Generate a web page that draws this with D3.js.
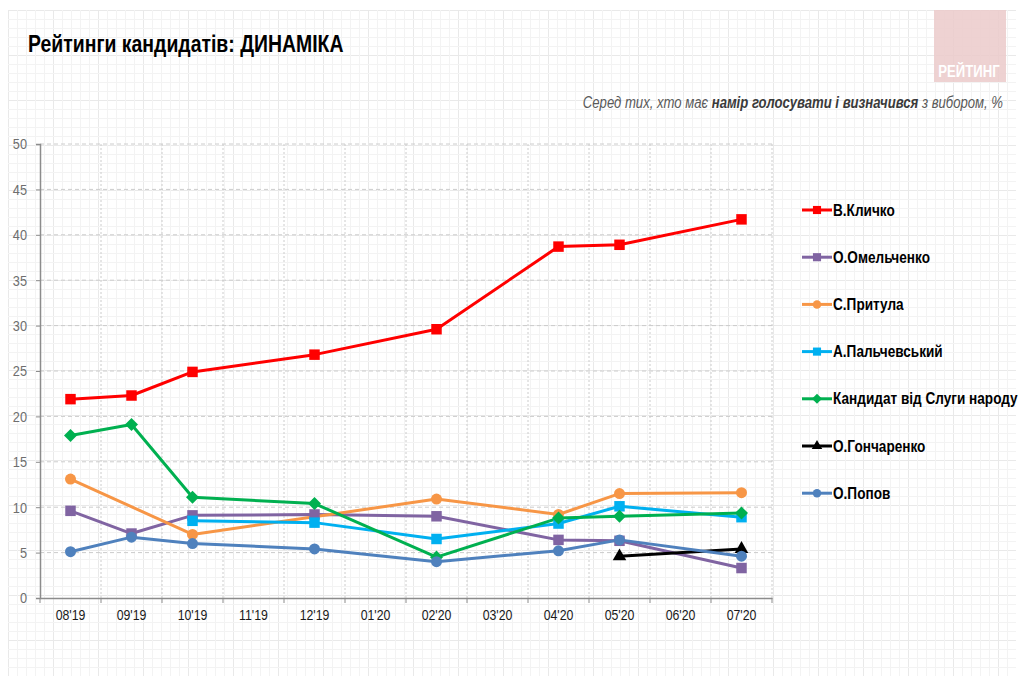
<!DOCTYPE html>
<html><head><meta charset="utf-8">
<script src="https://cdn.jsdelivr.net/npm/d3@7"></script>
<style>
body{margin:0;background:#fff;}
svg{display:block;}
</style></head>
<body>
<script>
const categories = ["08'19","09'19","10'19","11'19","12'19","01'20","02'20","03'20","04'20","05'20","06'20","07'20"];
const yTicks = [0,5,10,15,20,25,30,35,40,45,50];
const klitschko   = [21.9,22.3,24.9,null,26.8,null,29.6,null,38.7,38.9,null,41.7];
const omelchenko  = [9.6,7.1,9.1,null,9.2,null,9.0,null,6.4,6.3,null,3.3];
const prytula     = [13.1,null,7.0,null,null,null,10.9,null,9.2,11.5,null,11.6];
const palchevskyi = [null,null,8.5,null,8.3,null,6.5,null,8.2,10.1,null,8.9];
const servant     = [17.9,19.1,11.1,null,10.4,null,4.5,null,8.8,9.0,null,9.35];
const honcharenko = [null,null,null,null,null,null,null,null,null,4.6,null,5.4];
const popov       = [5.1,6.7,6.0,null,5.4,null,4.0,null,5.2,6.4,null,4.6];
const seriesNames = ["В.Кличко","О.Омельченко","С.Притула","А.Пальчевський","Кандидат від Слуги народу","О.Гончаренко","О.Попов"];

const rhombus={draw(ctx,size){const r=Math.sqrt(size/2);ctx.moveTo(0,-r);ctx.lineTo(r,0);ctx.lineTo(0,r);ctx.lineTo(-r,0);ctx.closePath();}};

const seriesDefs = [
  {name:seriesNames[0], values:klitschko,   color:"#FF0000", sym:d3.symbolSquare,  size:110},
  {name:seriesNames[1], values:omelchenko,  color:"#8064A2", sym:d3.symbolSquare,  size:110},
  {name:seriesNames[2], values:prytula,     color:"#F79646", sym:d3.symbolCircle,  size:95},
  {name:seriesNames[3], values:palchevskyi, color:"#00B0F0", sym:d3.symbolSquare,  size:110},
  {name:seriesNames[4], values:servant,     color:"#00B050", sym:rhombus,          size:85},
  {name:seriesNames[5], values:honcharenko, color:"#000000", sym:d3.symbolTriangle,size:80},
  {name:seriesNames[6], values:popov,       color:"#4F81BD", sym:d3.symbolCircle,  size:95}
];

const W=1024,H=676;
const svg=d3.select("body").append("svg").attr("width",W).attr("height",H);
const font="'Liberation Sans',Arial,sans-serif";
const K=0.82; // narrow-font emulation

// grid-paper background
const defs=svg.append("defs");
const pat=defs.append("pattern").attr("id","paper").attr("patternUnits","userSpaceOnUse")
  .attr("width",45).attr("height",45).attr("x",8).attr("y",10);
for(let i=0;i<5;i++){
  pat.append("line").attr("x1",i*9+0.5).attr("x2",i*9+0.5).attr("y1",0).attr("y2",45)
    .attr("stroke",i===0?"#e9e9e9":"#f3f3f3").attr("stroke-width",1);
  pat.append("line").attr("y1",i*9+0.5).attr("y2",i*9+0.5).attr("x1",0).attr("x2",45)
    .attr("stroke",i===0?"#e9e9e9":"#f3f3f3").attr("stroke-width",1);
}
svg.append("rect").attr("x",8).attr("y",10).attr("width",W-16).attr("height",H-10).attr("fill","url(#paper)");

// logo
svg.append("rect").attr("x",934).attr("y",10).attr("width",72).attr("height",72).attr("fill","#ebcaca").attr("opacity",0.85);
svg.append("text").attr("transform","translate(969,77) scale("+K+",1)").attr("text-anchor","middle")
  .attr("font-family",font).attr("font-weight","bold").attr("font-size",16).attr("fill","#fff").text("РЕЙТИНГ");

// title
svg.append("text").attr("transform","translate(28,52) scale("+K+",1)").attr("font-family",font).attr("font-weight","bold")
  .attr("font-size",23.7).attr("fill","#000").text("Рейтинги кандидатів: ДИНАМІКА");

// subtitle
const sub=svg.append("text").attr("transform","translate(1003,108) scale("+K+",1)").attr("text-anchor","end")
  .attr("font-family",font).attr("font-style","italic").attr("font-size",16).attr("fill","#595959");
sub.append("tspan").text("Серед тих, хто має ");
sub.append("tspan").attr("font-weight","bold").attr("fill","#3a3a3a").text("намір голосувати і визначився");
sub.append("tspan").text(" з вибором, %");

// scales
const x=d3.scaleBand().domain(categories).range([40,772]).padding(0);
const y=d3.scaleLinear().domain([0,50]).range([598,144]);
const cx=c=>x(c)+x.bandwidth()/2;

const g=svg.append("g");
// horizontal grid
g.append("g").selectAll("line").data(yTicks.filter(t=>t>0)).join("line")
  .attr("x1",40).attr("x2",772).attr("y1",d=>y(d)).attr("y2",d=>y(d))
  .attr("stroke","#cccccc").attr("stroke-dasharray","4,3");
// vertical grid
g.append("g").selectAll("line").data(categories).join("line")
  .attr("x1",d=>x(d)+x.bandwidth()).attr("x2",d=>x(d)+x.bandwidth()).attr("y1",144).attr("y2",598)
  .attr("stroke","#cccccc").attr("stroke-dasharray","2,2");

// axes
const yAxis=g.append("g").attr("transform","translate(40,0)")
  .call(d3.axisLeft(y).tickValues(yTicks).tickSize(4).tickPadding(0));
yAxis.select(".domain").attr("stroke","#8c8c8c").attr("stroke-width",1.5);
yAxis.selectAll(".tick line").attr("stroke","#8c8c8c");
yAxis.selectAll("text").attr("x",null).attr("transform","translate(-13,0) scale(0.85,1)")
  .attr("font-family",font).attr("font-size",15).attr("fill","#6e6e6e");

const xAxis=g.append("g").attr("transform","translate(0,598)")
  .call(d3.axisBottom(x).tickSize(0).tickPadding(0));
xAxis.select(".domain").attr("stroke","#8c8c8c").attr("stroke-width",1.5);
xAxis.selectAll("text").attr("y",null).attr("dy",null).attr("transform","translate(0,22) scale(0.85,1)")
  .attr("font-family",font).attr("font-size",14.5).attr("fill","#1a1a1a");
xAxis.append("g").selectAll("line").data([categories[0]].concat(categories)).join("line")
  .attr("x1",(d,i)=>i===0?x(d):x(d)+x.bandwidth()).attr("x2",(d,i)=>i===0?x(d):x(d)+x.bandwidth())
  .attr("y1",0).attr("y2",5).attr("stroke","#8c8c8c");

// series
const line=d3.line().x(d=>cx(d.c)).y(d=>y(d.v));
seriesDefs.forEach(s=>{
  const pts=categories.map((c,i)=>({c,v:s.values[i]})).filter(d=>d.v!=null);
  g.append("path").datum(pts).attr("d",line).attr("fill","none")
    .attr("stroke",s.color).attr("stroke-width",3).attr("stroke-linejoin","round");
});
seriesDefs.forEach(s=>{
  const pts=categories.map((c,i)=>({c,v:s.values[i]})).filter(d=>d.v!=null);
  g.append("g").selectAll("path").data(pts).join("path")
    .attr("d",d3.symbol().type(s.sym).size(s.size))
    .attr("transform",d=>`translate(${cx(d.c)},${y(d.v)})`)
    .attr("fill",s.color);
});

// legend
const leg=svg.append("g");
seriesDefs.forEach((s,i)=>{
  const ly=210+i*47.2;
  leg.append("line").attr("x1",802).attr("x2",832).attr("y1",ly).attr("y2",ly)
    .attr("stroke",s.color).attr("stroke-width",3);
  leg.append("path").attr("d",d3.symbol().type(s.sym).size(s.size*0.6))
    .attr("transform",`translate(817,${ly})`).attr("fill",s.color);
  leg.append("text").attr("transform",`translate(833,${ly+5.5}) scale(0.84,1)`).attr("font-family",font).attr("font-weight","bold")
    .attr("font-size",16.2).attr("fill","#000").text(s.name);
});
</script>
</body></html>
